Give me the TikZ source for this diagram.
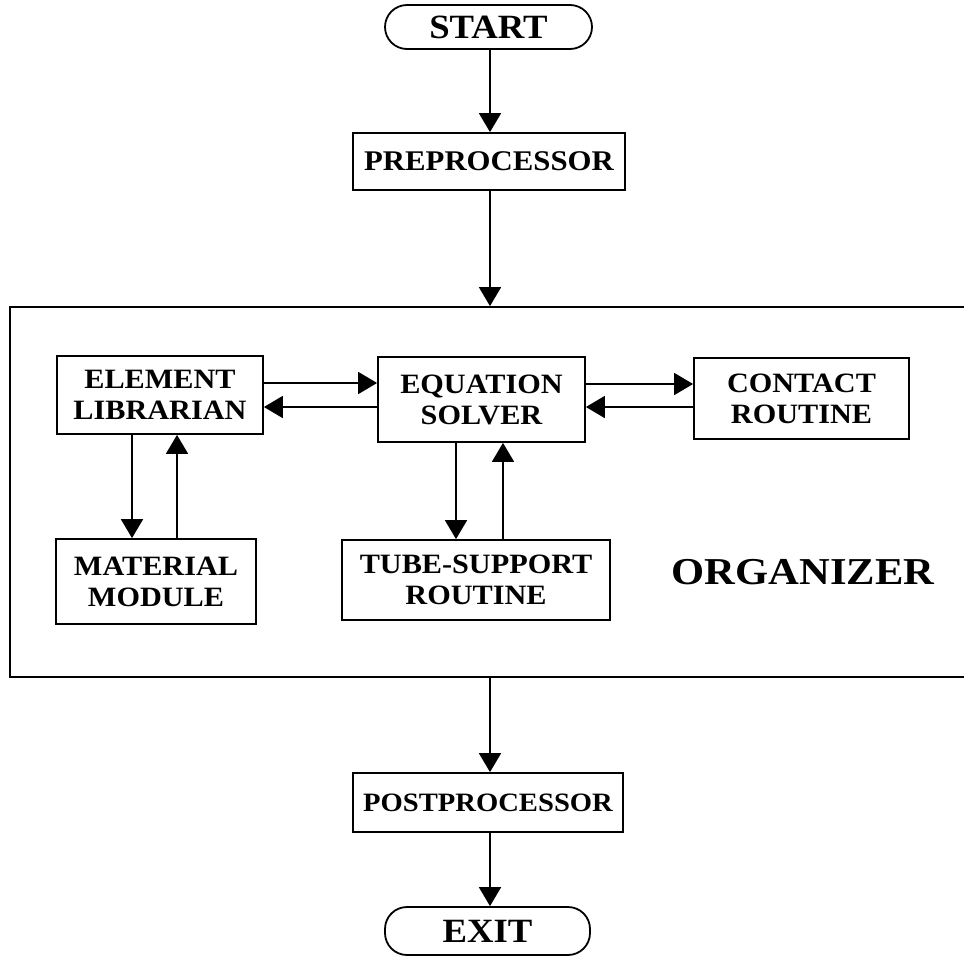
\documentclass[tikz,border=0pt]{standalone}
\usepackage{fontspec}
\newfontfamily\lblfont[FakeStretch=1.08]{Liberation Serif}
\newfontfamily\orgfont[FakeStretch=1.12]{Liberation Serif}
\usetikzlibrary{arrows.meta}
\begin{document}
\begin{tikzpicture}[x=1pt,y=-1pt,
  line width=1.8pt,
  box/.style={draw, rectangle, inner sep=0pt, align=center,
    font=\lblfont\fontsize{28}{31}\selectfont\bfseries},
  term/.style={draw, rectangle, rounded corners=22pt, inner sep=0pt,
    font=\lblfont\fontsize{34}{36}\selectfont\bfseries},
  arr/.style={-{Triangle[width=22pt,length=19pt]}}]
\useasboundingbox (0,0) rectangle (964,956);
\clip (0,0) rectangle (964,956);
% main flow
\node[term, minimum width=207pt, minimum height=44pt] (start) at (488.5,27) {START};
\node[box, minimum width=272pt, minimum height=57pt, font=\lblfont\fontsize{28.5}{31}\selectfont\bfseries] (pre) at (489,161.5) {PREPROCESSOR};
\node[draw, rectangle, minimum width=1000pt, minimum height=370pt, inner sep=0pt] (org) at (510,492) {};
\node[font=\orgfont\fontsize{38}{40}\selectfont\bfseries] (orglabel) at (803,572) {ORGANIZER};
\node[box, minimum width=270pt, minimum height=59pt, font=\lblfont\fontsize{26.5}{31}\selectfont\bfseries] (post) at (488,802.5) {POSTPROCESSOR};
\node[term, minimum width=205pt, minimum height=48pt] (exit) at (487.5,931) {EXIT};
% inner boxes
\node[box, minimum width=206pt, minimum height=78pt] (el) at (160,395) {ELEMENT\\LIBRARIAN};
\node[box, minimum width=207pt, minimum height=85pt] (es) at (481.5,399.5) {EQUATION\\SOLVER};
\node[box, minimum width=215pt, minimum height=81pt] (cr) at (801.5,398.5) {CONTACT\\ROUTINE};
\node[box, minimum width=200pt, minimum height=85pt] (mm) at (156,581.5) {MATERIAL\\MODULE};
\node[box, minimum width=268pt, minimum height=80pt] (ts) at (476,580) {TUBE-SUPPORT\\ROUTINE};
% main arrows
\draw[arr] (start.south -| 490,0) -- (pre.north -| 490,0);
\draw[arr] (pre.south -| 490,0) -- (org.north -| 490,0);
\draw[arr] (org.south -| 490,0) -- (post.north -| 490,0);
\draw[arr] (post.south -| 490,0) -- (exit.north -| 490,0);
% inner arrows
\draw[arr] (el.east |- 0,383) -- (es.west |- 0,383);
\draw[arr] (es.west |- 0,407) -- (el.east |- 0,407);
\draw[arr] (es.east |- 0,384) -- (cr.west |- 0,384);
\draw[arr] (cr.west |- 0,407) -- (es.east |- 0,407);
\draw[arr] (el.south -| 132,0) -- (mm.north -| 132,0);
\draw[arr] (mm.north -| 177,0) -- (el.south -| 177,0);
\draw[arr] (es.south -| 456,0) -- (ts.north -| 456,0);
\draw[arr] (ts.north -| 503,0) -- (es.south -| 503,0);
\end{tikzpicture}
\end{document}
